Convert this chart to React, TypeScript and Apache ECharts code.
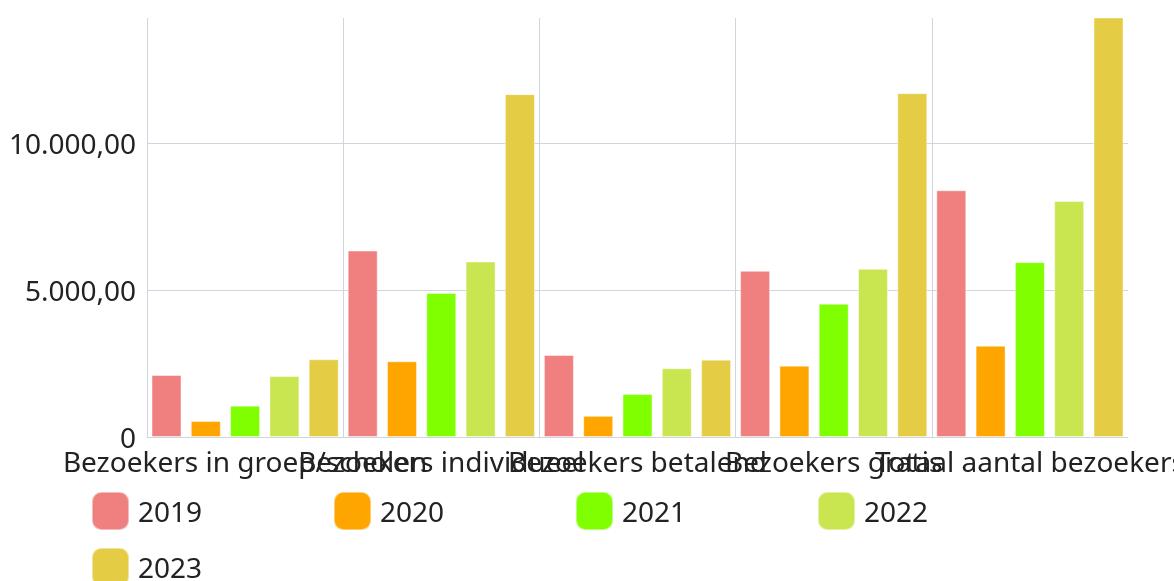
import React, { useEffect, useRef } from "react";
import * as echarts from "echarts";

const categories = [
  "Bezoekers in groep/scholen",
  "Bezoekers individueel",
  "Bezoekers betalend",
  "Bezoekers gratis",
  "Totaal aantal bezoekers",
];
const years = ["2019", "2020", "2021", "2022", "2023"];
const values2019 = [2109, 6341, 2790, 5652, 8391];
const values2020 = [544, 2575, 720, 2427, 3106];
const values2021 = [1065, 4895, 1466, 4532, 5947];
const values2022 = [2075, 5968, 2336, 5720, 8028];
const values2023 = [2643, 11660, 2631, 11694, 14303];
const colors = ["#F08080", "#FFA500", "#7FFF00", "#C9E651", "#E5CC45"];

const FONT = "'Noto Sans', 'Open Sans', sans-serif";

function fmt(v: number): string {
  if (v === 0) return "0";
  const fixed = v.toFixed(2);
  const [intPart, dec] = fixed.split(".");
  const withDots = intPart.replace(/\B(?=(\d{3})+(?!\d))/g, ".");
  return withDots + "," + dec;
}

export default function App() {
  const ref = useRef<HTMLDivElement>(null);
  useEffect(() => {
    if (!ref.current) return;
    const chart = echarts.init(ref.current, null, { renderer: "svg" });
    const all = [values2019, values2020, values2021, values2022, values2023];
    chart.setOption({
      animation: false,
      color: colors,
      grid: {
        left: 147,
        right: 46,
        top: 18,
        bottom: 144,
        containLabel: false,
        outerBoundsMode: "none",
      },
      legend: {
        left: 91,
        right: 0,
        top: 483,
        padding: 0,
        itemWidth: 37,
        itemHeight: 38,
        itemGap: 0,
        icon: "roundRect",
        textStyle: {
          fontFamily: FONT,
          fontSize: 28,
          color: "#222",
          width: 195,
          lineHeight: 56,
          padding: [0, 0, 0, 4],
        },
        data: years,
      },
      xAxis: {
        type: "category",
        data: categories,
        axisLine: { show: true, lineStyle: { color: "#d0d5de", width: 1 } },
        axisTick: { show: false },
        axisLabel: {
          interval: 0,
          margin: 7,
          fontFamily: FONT,
          fontSize: 28,
          lineHeight: 34,
          color: "#222",
        },
        splitLine: {
          show: true,
          showMaxLine: false,
          lineStyle: { color: "#d0d5de", width: 1 },
        },
      },
      yAxis: {
        type: "value",
        min: 0,
        max: 14250,
        interval: 5000,
        axisLine: { show: false },
        axisTick: { show: false },
        axisLabel: {
          margin: 11,
          showMaxLabel: false,
          fontFamily: FONT,
          fontSize: 28,
          color: "#222",
          formatter: (v: number) => fmt(v),
        },
        splitLine: {
          show: true,
          showMaxLine: false,
          lineStyle: { color: "#d0d5de", width: 1 },
        },
      },
      series: years.map((y, i) => ({
        name: y,
        type: "bar",
        data: all[i],
        barWidth: 30,
        barGap: "31%",
        itemStyle: { borderColor: "rgba(255,255,255,0.45)", borderWidth: 1 },
      })),
    });
    return () => chart.dispose();
  }, []);
  return (
    <div
      ref={ref}
      style={{ position: "fixed", left: 0, top: 0, width: 1174, height: 581 }}
    />
  );
}
